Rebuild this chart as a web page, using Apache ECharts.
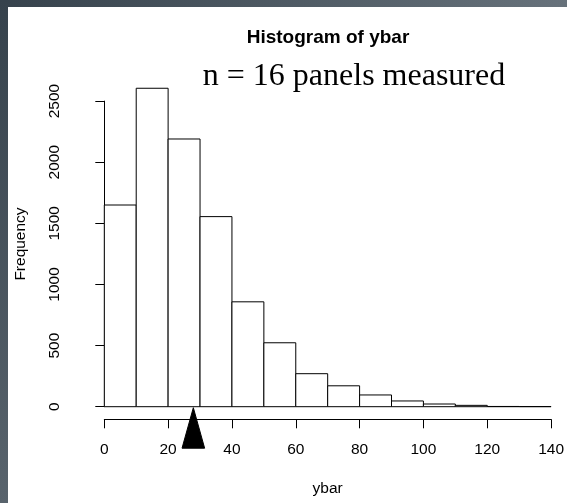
<!DOCTYPE html>
<html><head><meta charset="utf-8">
<script src="https://cdn.jsdelivr.net/npm/echarts@6/dist/echarts.min.js"></script>
<style>
html,body{margin:0;padding:0;background:#fff;}
#wrap{position:relative;width:567px;height:503px;overflow:hidden;background:#fff;}
#chart{position:absolute;left:0;top:0;width:567px;height:503px;}
#bandTop{position:absolute;left:0;top:0;width:567px;height:7px;background:linear-gradient(90deg,#36424c,#67727b);z-index:5}
#bandLeft{position:absolute;left:0;top:0;width:8px;height:503px;background:linear-gradient(180deg,#36424c,#58636c);z-index:5}
</style></head><body>
<div id="wrap"><div id="chart"></div><div id="bandTop"></div><div id="bandLeft"></div></div>
<script>
// ---- data ----
const binStarts = [0, 10, 20, 30, 40, 50, 60, 70, 80, 90, 100, 110, 120, 130];
const binWidth = 10;
const frequencies = [1650, 2605, 2190, 1555, 858, 523, 270, 171, 96, 47, 22, 11, 2, 1];
const xTickValues = [0, 20, 40, 60, 80, 100, 120, 140];
const yTickValues = [0, 500, 1000, 1500, 2000, 2500];
const meanYbar = 27.9;
const titleText = 'Histogram of ybar';
const noteText = 'n = 16 panels measured';
const xLabel = 'ybar';
const yLabel = 'Frequency';

const binData = binStarts.map((s, i) => [s, s + binWidth, frequencies[i]]);

const chart = echarts.init(document.getElementById('chart'), null, {renderer: 'canvas'});
const sans = 'Liberation Sans, Arial, sans-serif';
const serif = 'Liberation Serif, Times New Roman, serif';

chart.setOption({
  animation: false,
  backgroundColor: 'transparent',
  grid: {left: 104.3, right: 13.3, top: 101.1, bottom: 96.3, containLabel: false},
  xAxis: {
    type: 'value',
    min: xTickValues[0], max: xTickValues[xTickValues.length - 1],
    interval: xTickValues[1] - xTickValues[0],
    offset: 12.6,
    axisLine: {show: true, onZero: false, lineStyle: {color: '#000', width: 1}},
    axisTick: {show: true, length: 9, lineStyle: {color: '#000', width: 1}},
    axisLabel: {show: true, color: '#000', fontFamily: sans, fontSize: 15.5, margin: 22,
      formatter: v => String(v)},
    splitLine: {show: false},
    name: xLabel, nameLocation: 'middle', nameGap: 61,
    nameTextStyle: {color: '#000', fontFamily: sans, fontSize: 15.5}
  },
  yAxis: {
    type: 'value',
    min: yTickValues[0], max: yTickValues[yTickValues.length - 1],
    interval: yTickValues[1] - yTickValues[0],
    offset: 17.8,
    axisLine: {show: true, lineStyle: {color: '#000', width: 1}},
    axisTick: {show: true, length: 9, lineStyle: {color: '#000', width: 1}},
    axisLabel: {show: true, rotate: 90, color: '#000', fontFamily: sans, fontSize: 15.5, margin: 24,
      formatter: v => String(v)},
    splitLine: {show: false}
  },
  graphic: [
    {type: 'text', x: 328, y: 38, z: 10, style: {text: titleText, font: 'bold 19px ' + sans, fill: '#000', textAlign: 'center', textVerticalAlign: 'middle'}},
    {type: 'text', x: 354, y: 77, z: 10, style: {text: noteText, font: '32px ' + serif, fill: '#000', textAlign: 'center', textVerticalAlign: 'middle'}},
    {type: 'text', x: 21, y: 244, rotation: Math.PI / 2, z: 10, style: {text: yLabel, font: '15.5px ' + sans, fill: '#000', textAlign: 'center', textVerticalAlign: 'middle'}}
  ],
  series: [
    {
      type: 'custom',
      clip: false,
      encode: {x: [0, 1], y: 2},
      data: binData,
      renderItem: function (params, api) {
        const p0 = api.coord([api.value(0), 0]);
        const p1 = api.coord([api.value(1), api.value(2)]);
        return {
          type: 'rect',
          shape: {x: p0[0], y: p1[1], width: p1[0] - p0[0], height: p0[1] - p1[1]},
          style: {fill: '#fff', stroke: '#000', lineWidth: 1}
        };
      },
      z: 2
    },
    {
      type: 'custom',
      clip: false,
      encode: {x: 0, y: 1},
      data: [[meanYbar, 0]],
      renderItem: function (params, api) {
        const p = api.coord([api.value(0), api.value(1)]);
        return {
          type: 'polygon',
          shape: {points: [[p[0], p[1] + 1], [p[0] - 11.3, p[1] + 41.5], [p[0] + 11.3, p[1] + 41.5]]},
          style: {fill: '#000', stroke: '#000', lineWidth: 1}
        };
      },
      z: 20
    }
  ]
});
</script>
</body></html>
